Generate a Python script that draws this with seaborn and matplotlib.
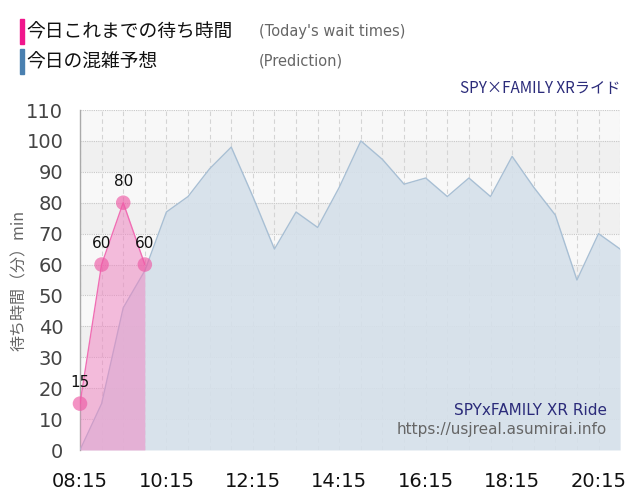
import numpy as np
import pandas as pd
import matplotlib
matplotlib.use("Agg")
import matplotlib.pyplot as plt
from matplotlib.patches import Rectangle
import seaborn as sns

# predicted crowding, every 30 min from 08:15
pred_times = ["08:15", "08:45", "09:15", "09:45", "10:15", "10:45", "11:15", "11:45",
              "12:15", "12:45", "13:15", "13:45", "14:15", "14:45", "15:15", "15:45",
              "16:15", "16:45", "17:15", "17:45", "18:15", "18:45", "19:15", "19:45",
              "20:15", "20:45"]
pred_values = [0, 15, 46, 58, 77, 82, 91, 98, 82, 65, 77, 72, 85, 100, 94, 86,
               88, 82, 88, 82, 95, 85, 76, 55, 70, 65]

# today's actual wait times
wait_times = ["08:15", "08:45", "09:15", "09:45"]
wait_values = [15, 60, 80, 60]

tick_labels = ["08:15", "10:15", "12:15", "14:15", "16:15", "18:15", "20:15"]


def to_hours(t):
    h, m = t.split(":")
    return int(h) + int(m) / 60


pred = pd.DataFrame({"x": [to_hours(t) for t in pred_times], "y": pred_values})
wait = pd.DataFrame({"x": [to_hours(t) for t in wait_times], "y": wait_values})

sns.set_theme(style="white")
plt.rcParams["font.family"] = ["DejaVu Sans", "Noto Sans CJK JP"]
jp = ["Noto Sans CJK JP", "DejaVu Sans"]

fig = plt.figure(figsize=(6.4, 5), dpi=100)
ax = fig.add_axes([0.125, 0.1, 0.844, 0.68])

x0, x1 = to_hours("08:15"), to_hours("20:45")
ax.set_xlim(x0, x1)
ax.set_ylim(0, 110)

# alternating background bands
for lo in range(0, 110, 10):
    ax.axhspan(lo, lo + 10, color="#f0f0f0" if (lo // 10) % 2 == 1 else "#f8f8f8",
               lw=0, zorder=0)
for y in range(10, 111, 10):
    ax.axhline(y, color="#c8c8c8", lw=0.8, ls=(0, (1, 1)), zorder=1)
for xv in pred["x"]:
    ax.axvline(xv, color="#d4d4d4", lw=0.8, ls=(0, (4, 3)), zorder=1)

# prediction
ax.fill_between(pred["x"], pred["y"], color="#d5e0ea", alpha=0.9, lw=0, zorder=2)
sns.lineplot(data=pred, x="x", y="y", ax=ax, color="#a8bfd4", lw=1, zorder=3)

# actual
ax.fill_between(wait["x"], wait["y"], color="#f080c0", alpha=0.5, lw=0, zorder=4)
sns.lineplot(data=wait, x="x", y="y", ax=ax, color="#f06eb4", lw=1, zorder=5)
sns.scatterplot(data=wait, x="x", y="y", ax=ax, color="#ee5aa5", alpha=0.65, s=110,
                edgecolor="none", zorder=6, clip_on=False)
for xv, yv in zip(wait["x"], wait["y"]):
    ax.annotate(str(yv), (xv, yv), xytext=(0, 10), textcoords="offset points",
                ha="center", va="bottom", fontsize=11, color="#111111", zorder=7)

ax.set_yticks(range(0, 111, 10))
ax.set_yticklabels([str(v) for v in range(0, 111, 10)], fontsize=14, color="#444444")
ax.set_xticks([to_hours(t) for t in tick_labels])
ax.set_xticklabels(tick_labels, fontsize=14, color="#111111")
ax.tick_params(axis="x", length=14, color="#dddddd", width=1, pad=2)
ax.tick_params(axis="y", length=8, color="#dddddd", width=1, pad=4)
ax.set_xlabel("")
ax.set_ylabel("待ち時間（分）min", fontsize=11.5, color="#666666", labelpad=-1,
              family=jp)
for s in ["top", "right", "bottom"]:
    ax.spines[s].set_visible(False)
ax.spines["left"].set_color("#aaaaaa")
ax.spines["left"].set_linewidth(1)

# watermark inside plot
ax.text(0.975, 0.115, "SPYxFAMILY XR Ride", transform=ax.transAxes, ha="right",
        va="center", fontsize=11, color="#2b2b7a", zorder=8)
ax.text(0.975, 0.06, "https://usjreal.asumirai.info", transform=ax.transAxes,
        ha="right", va="center", fontsize=11, color="#666666", zorder=8)

# title at top right
fig.text(0.969, 0.822, "SPY×FAMILY XRライド", ha="right", va="center", fontsize=11,
         color="#2b2b7a", family=jp)

# legend at top
fig.patches.append(Rectangle((0.031, 0.912), 0.007, 0.05, transform=fig.transFigure,
                             color="#f0168c", figure=fig))
fig.patches.append(Rectangle((0.031, 0.852), 0.007, 0.05, transform=fig.transFigure,
                             color="#4a80b0", figure=fig))
fig.text(0.041, 0.937, "今日これまでの待ち時間", ha="left", va="center", fontsize=13.5,
         color="#111111", family=jp)
fig.text(0.041, 0.877, "今日の混雑予想", ha="left", va="center", fontsize=13.5,
         color="#111111", family=jp)
fig.text(0.405, 0.937, "(Today's wait times)", ha="left", va="center", fontsize=10.5,
         color="#666666")
fig.text(0.405, 0.877, "(Prediction)", ha="left", va="center", fontsize=10.5,
         color="#666666")

fig.savefig("out.png", dpi=100)
